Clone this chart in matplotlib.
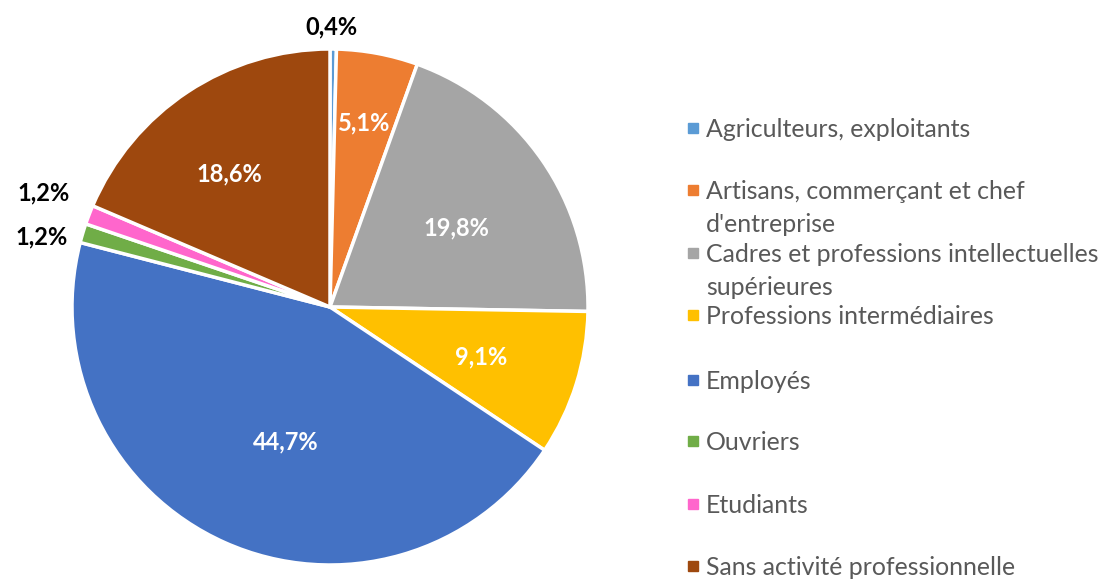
import matplotlib
matplotlib.use("Agg")
import matplotlib.pyplot as plt
import numpy as np
from matplotlib.patches import Rectangle

categories = ["Agriculteurs, exploitants",
              "Artisans, commerçant et chef\nd'entreprise",
              "Cadres et professions intellectuelles\nsupérieures",
              "Professions intermédiaires",
              "Employés",
              "Ouvriers",
              "Etudiants",
              "Sans activité professionnelle"]
values = [0.4, 5.1, 19.8, 9.1, 44.7, 1.2, 1.2, 18.6]
labels = ["0,4%", "5,1%", "19,8%", "9,1%", "44,7%", "1,2%", "1,2%", "18,6%"]
colors = ["#5B9BD5", "#ED7D31", "#A5A5A5", "#FFC000", "#4472C4",
          "#70AD47", "#FF66CC", "#9E480E"]

plt.rcParams['font.family'] = ['Lato', 'DejaVu Sans']

W, H = 1100, 579
fig = plt.figure(figsize=(W/100, H/100), dpi=100)
cx, cy, R = 330, 579-307, 258
ax = fig.add_axes([(cx-R)/W, (cy-R)/H, 2*R/W, 2*R/H])

wedges, _ = ax.pie(values, colors=colors, startangle=90, counterclock=False,
                   radius=1, wedgeprops=dict(edgecolor='white', linewidth=2.5))
ax.set_xlim(-1, 1); ax.set_ylim(-1, 1)
ax.set_aspect('equal')
ax.axis('off')

# label placement: radius fraction and angular nudge (deg) per slice
label_r = [1.085, 0.725, 0.579, 0.616, 0.550, 1.152, 1.194, 0.647]
label_dang = [0.4, 0.0, -2.7, -0.95, 6.0, 3.0, -0.75, 3.65]
for i, w in enumerate(wedges):
    ang = np.deg2rad((w.theta1 + w.theta2) / 2 + label_dang[i])
    r = label_r[i]
    inside = r < 1
    ax.text(r*np.cos(ang), r*np.sin(ang), labels[i], ha='center', va='center',
            fontsize=17, fontweight='bold',
            color='white' if inside else 'black', clip_on=False)

# legend (manual layout to match irregular spacing)
leg_y = [128, 190, 253, 315, 380, 441, 504, 566]
for y, lab, c in zip(leg_y, categories, colors):
    fig.patches.append(Rectangle((688/W, 1-(y+5)/H), 10/W, 10/H,
                                 transform=fig.transFigure, color=c))
    fig.text(706/W, 1-(y-10)/H, lab, ha='left', va='top', fontsize=17.9,
             color='#595959', linespacing=1.52)

fig.savefig("out.png", dpi=100)
